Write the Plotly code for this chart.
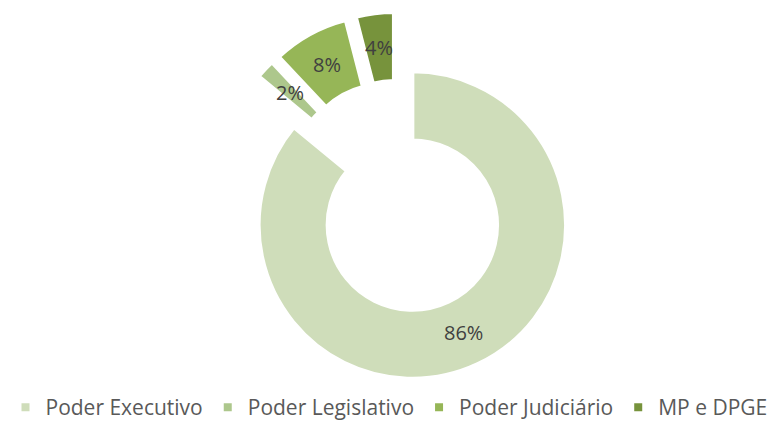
import math
import plotly.graph_objects as go

categories = ["Poder Executivo", "Poder Legislativo", "Poder Judiciário", "MP e DPGE"]
values = [86, 2, 8, 4]
labels_txt = ["86%", "2%", "8%", "4%"]
colors = ["#CFDDBA", "#ADC78C", "#96B657", "#77933C"]
pulls = [0.2277, 0.1822, 0.1822, 0.1822]

W, H = 770, 421
HOLE = 0.551
DOM_X = [0.21617, 0.81617]
DOM_Y = [0.09240, 0.98884]

fig = go.Figure(
    go.Pie(
        labels=categories,
        values=values,
        sort=False,
        direction="clockwise",
        rotation=0,
        hole=HOLE,
        pull=pulls,
        marker=dict(colors=colors, line=dict(color="white", width=4)),
        textinfo="none",
        domain=dict(x=DOM_X, y=DOM_Y),
        hoverinfo="skip",
    )
)

# label positions derived from the pie geometry (same rules Plotly uses)
dw = W * (DOM_X[1] - DOM_X[0])
dh = H * (DOM_Y[1] - DOM_Y[0])
r = min(dw, dh) / 2 / (1 + max(pulls))
cx = W * (DOM_X[0] + DOM_X[1]) / 2
cy = H * (1 - DOM_Y[0]) - dh / 2
total = sum(values)
cum = 0
for v, p, t in zip(values, pulls, labels_txt):
    mid = (cum + v / 2) / total * 2 * math.pi
    cum += v
    ax = cx + p * r * math.sin(mid)
    ay = cy - p * r * math.cos(mid)
    rm = r * (1 + HOLE) / 2
    px = ax + rm * math.sin(mid)
    py = ay - rm * math.cos(mid)
    fig.add_annotation(
        x=px / W, y=1 - py / H, xref="paper", yref="paper",
        text=t, showarrow=False, xanchor="center", yanchor="middle",
        font=dict(family="Open Sans", size=20, color="#404040"),
    )

fig.update_layout(
    width=W,
    height=H,
    margin=dict(l=0, r=0, t=0, b=0, autoexpand=False),
    paper_bgcolor="white",
    plot_bgcolor="white",
    legend=dict(
        orientation="h",
        x=389 / W,
        xanchor="center",
        y=1 - 407.5 / H,
        yanchor="middle",
        font=dict(family="Open Sans", size=21, color="#595959"),
        itemwidth=30,
        traceorder="normal",
    ),
    showlegend=True,
)

fig.write_html(
    "out.html",
    config={"displayModeBar": False},
    post_script="document.body.style.margin='0';document.body.style.overflow='hidden';",
)
